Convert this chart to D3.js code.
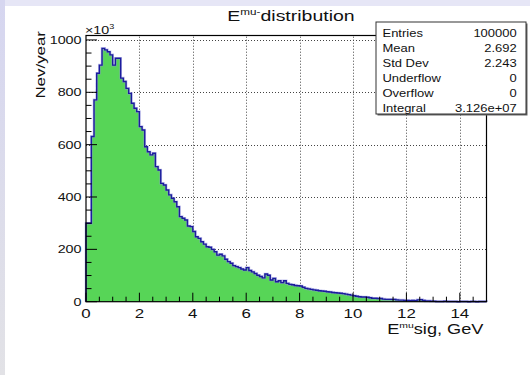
<!DOCTYPE html>
<html><head><meta charset="utf-8">
<script src="https://cdn.jsdelivr.net/npm/d3@7"></script>
<style>
html,body{margin:0;padding:0;background:#fff;}
svg{display:block;}
text{font-family:"Liberation Sans",Arial,Helvetica,sans-serif;fill:#111;}
</style></head><body>
<svg id="c" width="530" height="375"></svg>
<script>
// Bin contents (Nev/year, in units of 10^3), 150 bins of 0.1 GeV from 0 to 15 GeV
const counts = [
  300, 300, 631, 771, 873, 904, 968, 962, 955, 943,
  904, 930, 930, 854, 841, 815, 796, 758, 739, 726,
  669, 656, 592, 573, 561, 567, 516, 503, 452, 446,
  427, 408, 395, 382, 363, 325, 319, 312, 289, 287,
  268, 248, 242, 229, 220, 210, 208, 200, 191, 178,
  181, 175, 162, 153, 147, 138, 134, 130, 125, 121,
  130, 119, 114, 108, 101, 96, 91, 106, 101, 83,
  89, 76, 80, 73, 80, 70, 66, 65, 62, 61,
  60, 55, 51, 49, 47, 45, 44, 42, 41, 40,
  38, 37, 35, 34, 33, 32, 31, 29, 27, 25,
  23, 21, 19, 18, 18, 17, 15, 13, 13, 12,
  12, 10, 9, 9, 9, 9, 7, 6, 6, 5,
  5, 4, 5, 4, 7, 8, 5, 3, 3, 2,
  2, 1, 1, 1, 2, 1, 1, 1, 1, 0,
  1, 1, 1, 0, 1, 1, 0, 1, 1, 1
];
const xDomain = [0, 15];
const yDomain = [0, 1017];
const xTicks = [0, 2, 4, 6, 8, 10, 12, 14];
const yTicks = [0, 200, 400, 600, 800, 1000];
const xMinorStep = 0.5;
const yMinorStep = 50;
const statNames = ["Entries", "Mean", "Std Dev", "Underflow", "Overflow", "Integral"];
const statValues = ["100000", "2.692", "2.243", "0", "0", "3.126e+07"];

const svg = d3.select("#c");
const W = 530, H = 375;
const frame = {left: 86, right: 486.5, top: 35.5, bottom: 301.7};
const SX = 1.3; // wide glyph rendering of the canvas text

const x = d3.scaleLinear().domain(xDomain).range([frame.left, frame.right]);
const y = d3.scaleLinear().domain(yDomain).range([frame.bottom, frame.top]);

// page background with the lavender slide edge
const defs = svg.append("defs");
const lg = defs.append("linearGradient").attr("id", "edge").attr("x1", 0).attr("y1", 0).attr("x2", 0).attr("y2", 1);
lg.append("stop").attr("offset", "0%").attr("stop-color", "#d6d6f0");
lg.append("stop").attr("offset", "100%").attr("stop-color", "#e2e2e6");
svg.append("rect").attr("width", W).attr("height", H).attr("fill", "#fff");
svg.append("rect").attr("x", 0).attr("y", 0).attr("width", W).attr("height", 6).attr("fill", "#e6e6f6");
svg.append("rect").attr("x", 0).attr("y", 0).attr("width", 5).attr("height", H).attr("fill", "url(#edge)");

// grid
const grid = svg.append("g").attr("stroke", "#444").attr("stroke-width", 1).attr("stroke-dasharray", "1,2");
grid.selectAll("line.v").data(xTicks.filter(d => d > xDomain[0])).join("line")
  .attr("x1", d => Math.round(x(d)) + 0.5).attr("x2", d => Math.round(x(d)) + 0.5)
  .attr("y1", frame.bottom).attr("y2", frame.top);
grid.selectAll("line.h").data(yTicks.filter(d => d > yDomain[0])).join("line")
  .attr("x1", frame.left).attr("x2", frame.right)
  .attr("y1", d => Math.round(y(d)) + 0.5).attr("y2", d => Math.round(y(d)) + 0.5);

// histogram
const bw = (xDomain[1] - xDomain[0]) / counts.length;
const pts = [[xDomain[0], 0]];
counts.forEach((c, i) => {
  pts.push([xDomain[0] + i * bw, c]);
  pts.push([xDomain[0] + (i + 1) * bw, c]);
});
pts.push([xDomain[1], 0]);
const line = d3.line().x(d => x(d[0])).y(d => y(d[1]));
svg.append("path").attr("d", line(pts) + "Z").attr("fill", "#57d557").attr("stroke", "none");
svg.append("path").attr("d", line(pts)).attr("fill", "none")
  .attr("stroke", "#8f8fe0").attr("stroke-width", 2.6).attr("stroke-opacity", 0.55);
svg.append("path").attr("d", line(pts)).attr("fill", "none")
  .attr("stroke", "#1c1c9c").attr("stroke-width", 1.4);

// ticks
const ticks = svg.append("g").attr("stroke", "#000").attr("stroke-width", 1);
const xMinor = d3.range(xDomain[0], xDomain[1] + 1e-9, xMinorStep);
ticks.selectAll("line.xt").data(xMinor).join("line")
  .attr("x1", d => x(d)).attr("x2", d => x(d))
  .attr("y1", frame.bottom)
  .attr("y2", d => frame.bottom - (xTicks.includes(d) ? 9 : 5));
const yMinor = d3.range(yDomain[0], yDomain[1], yMinorStep);
ticks.selectAll("line.yt").data(yMinor).join("line")
  .attr("y1", d => y(d)).attr("y2", d => y(d))
  .attr("x1", frame.left)
  .attr("x2", d => frame.left + (yTicks.includes(d) ? 11 : 5.5));

// frame
svg.append("rect").attr("x", frame.left).attr("y", frame.top)
  .attr("width", frame.right - frame.left).attr("height", frame.bottom - frame.top)
  .attr("fill", "none").attr("stroke", "#000").attr("stroke-width", 1.2);

// text helper: wide glyphs along the text direction
function label(px, py, size, anchor, rot) {
  const g = svg.append("g").attr("transform", `translate(${px},${py}) rotate(${rot || 0}) scale(${SX},1)`);
  return g.append("text").attr("text-anchor", anchor).attr("font-size", size);
}

// tick labels
xTicks.forEach(d => label(x(d), 317.5, 13, "middle").text(d));
yTicks.forEach(d => label(81.5, y(d) + 4, 11, "end").text(d));

// exponent marker
const ex = label(85, 34, 11, "start");
ex.append("tspan").text("\u00d710");
ex.append("tspan").attr("font-size", 7).attr("dy", -5).text("3");

// axis titles
const xt = label(483.5, 333.5, 14, "end");
xt.append("tspan").text("E");
xt.append("tspan").attr("font-size", 8).attr("dy", -5.5).text("mu");
xt.append("tspan").attr("dy", 5.5).text("sig, GeV");
label(45, 31, 13, "end", -90).text("Nev/year");

// title
const tt = label(291, 20.7, 15, "middle");
tt.append("tspan").text("E");
tt.append("tspan").attr("font-size", 9).attr("dy", -6).text("mu-");
tt.append("tspan").attr("dy", 6).text("distribution");

// statistics box
const box = {x: 376, y: 22, w: 150, h: 92};
svg.append("rect").attr("x", box.x + 1.5).attr("y", box.y + 1.5).attr("width", box.w).attr("height", box.h).attr("fill", "#666");
svg.append("rect").attr("x", box.x).attr("y", box.y).attr("width", box.w).attr("height", box.h)
  .attr("fill", "#fff").attr("stroke", "#333").attr("stroke-width", 1);
statNames.forEach((n, i) => {
  const by = 36.7 + i * 15.1;
  label(382.5, by, 10, "start").text(n);
  label(516.7, by, 10, "end").text(statValues[i]);
});
</script>
</body></html>
